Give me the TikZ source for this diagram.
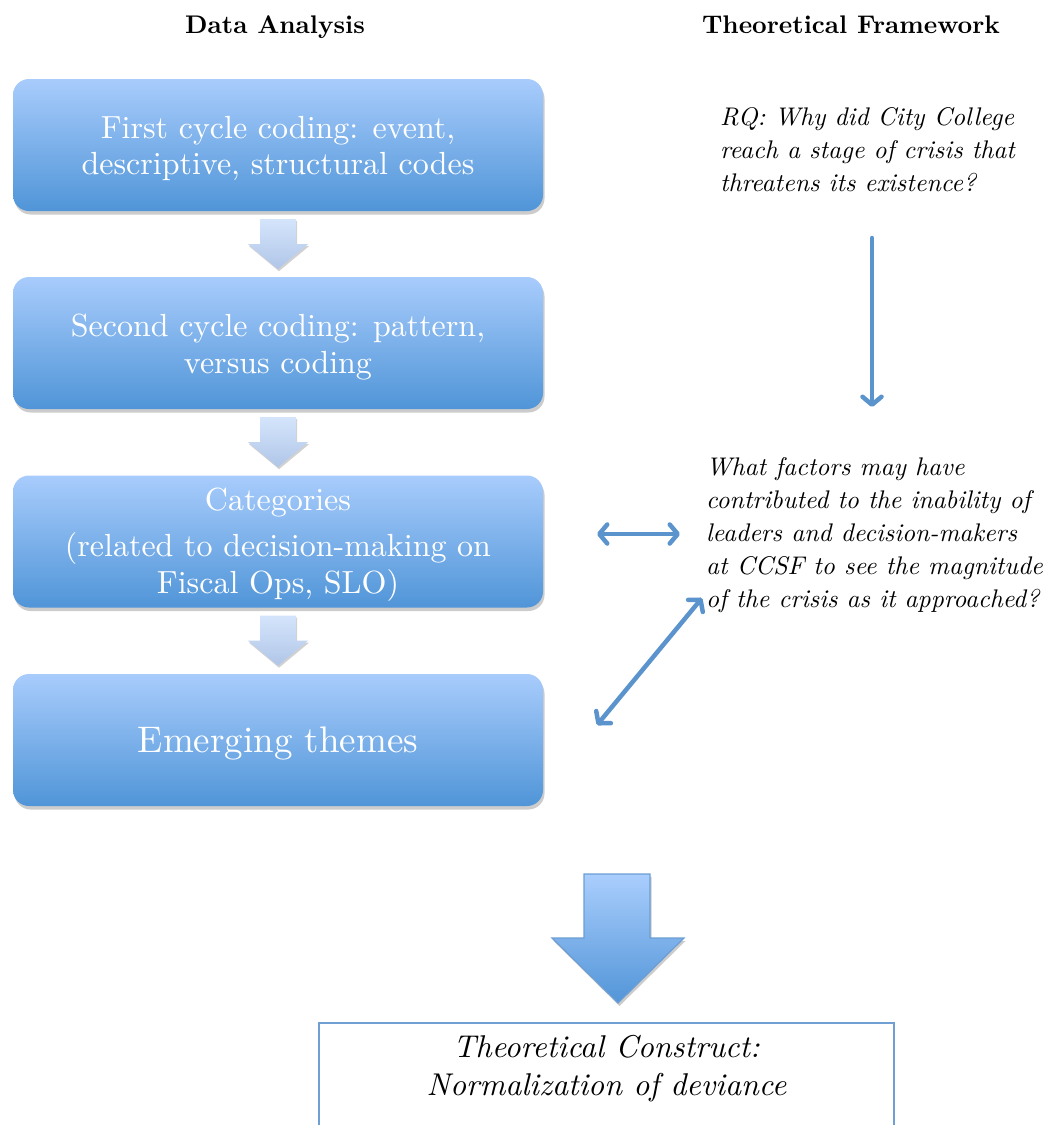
\documentclass[tikz,border=0pt]{standalone}
\usepackage{fontspec}
\newfontfamily\lmten{lmroman10-regular.otf}
\newfontfamily\lmtenit{lmroman10-italic.otf}
\newfontfamily\lmtenbf{lmroman10-bold.otf}
\usetikzlibrary{arrows.meta,shadows,calc}
\definecolor{boxtop}{RGB}{168,204,252}
\definecolor{boxbot}{RGB}{80,149,216}
\definecolor{satop}{RGB}{212,228,251}
\definecolor{sabot}{RGB}{176,198,232}
\definecolor{linecol}{RGB}{91,147,205}
\definecolor{bigtop}{RGB}{170,206,253}
\definecolor{bigbot}{RGB}{82,149,216}
\definecolor{bigedge}{RGB}{108,158,212}
\definecolor{framecol}{RGB}{112,160,211}
\begin{document}
\begin{tikzpicture}[x=1pt,y=-1pt,
  stepbox/.style={rounded corners=16pt, minimum width=530pt, minimum height=132pt,
    top color=boxtop, bottom color=boxbot, draw=none, inner sep=0pt,
    drop shadow={shadow xshift=1.5pt, shadow yshift=-3.5pt, opacity=0.2, fill=black}},
  boxtext/.style={text=white, align=center, inner sep=0pt,
    font=\lmten\fontsize{32}{36.5}\selectfont},
  headtxt/.style={font=\lmtenbf\fontsize{25.5}{30}\selectfont, anchor=base},
  qtext/.style={font=\lmtenit\fontsize{25.5}{33}\selectfont, align=left, anchor=north west, inner sep=0pt},
  thinarrow/.style={draw=linecol, line width=4.5pt, line cap=round,
    -{Straight Barb[length=8pt,width=19pt,round]}},
  dblarrow/.style={draw=linecol, line width=4.5pt, line cap=round,
    {Straight Barb[length=8pt,width=19pt,round]}-{Straight Barb[length=8pt,width=19pt,round]}},
  smallarr/.style={top color=satop, bottom color=sabot,
    drop shadow={shadow xshift=1pt, shadow yshift=-2pt, opacity=0.18, fill=black}},
  pics/downarr/.style={code={
    \path[smallarr] (-18,0) -- (18,0) -- (18,25) -- (30,25) -- (0,50) -- (-30,25) -- (-18,25) -- cycle;}},
]
\useasboundingbox (0,0) rectangle (1046,1125);

% headers
\node[headtxt] (hda) at (275,33) {Data Analysis};
\node[headtxt] (htf) at (851,33) {Theoretical Framework};

% left column boxes
\node[stepbox] (b1) at (278,145) {};
\node[stepbox] (b2) at (278,343) {};
\node[stepbox] (b3) at (278,541.5) {};
\node[stepbox] (b4) at (278,740) {};
\node[boxtext] (t1) at ($(b1.center)+(0,3.5)$) {First cycle coding: event,\\descriptive, structural codes};
\node[boxtext] (t2) at ($(b2.center)+(0,4)$) {Second cycle coding: pattern,\\versus coding};
\node[boxtext] (t3) at ($(b3.center)+(0,3)$) {Categories\\[10pt](related to decision-making on\\Fiscal Ops, SLO)};
\node[boxtext, font=\lmten\fontsize{37}{44}\selectfont] (t4) at ($(b4.center)+(0,3)$) {Emerging themes};

% small block arrows between boxes
\foreach \a in {b1,b2,b3} {
  \pic at ($(\a.south)+(0,8)$) {downarr};
}

% right column texts
\node[qtext] (rq) at (720,107) {RQ: Why did City College\\reach a stage of crisis that\\threatens its existence?};
\node[qtext] (fq) at (706,457.5) {What factors may have\\contributed to the inability of\\leaders and decision-makers\\at CCSF to see the magnitude\\of the crisis as it approached?};

% thin arrows
\coordinate (va) at (872,238);
\coordinate (vb) at (872,407);
\draw[thinarrow] (va) -- (vb);
\coordinate (h1) at (597,534);
\coordinate (h2) at (680,534);
\draw[dblarrow] (h1) -- (h2);
\coordinate (d1) at (597,725);
\coordinate (d2) at (702,598);
\draw[dblarrow] (d1) -- (d2);

% big block arrow
\path[top color=bigtop, bottom color=bigbot, draw=bigedge, line width=1.2pt,
  drop shadow={shadow xshift=1.5pt, shadow yshift=-3pt, opacity=0.2, fill=black}]
  (584,874) -- (650,874) -- (650,938) -- (684,938) -- (618,1003) -- (552,938) -- (584,938) -- cycle;

% bottom construct box
\node[font=\lmtenit\fontsize{31.5}{38}\selectfont, align=center, anchor=north,
  minimum width=575pt, inner xsep=0pt, inner ysep=12pt] (tc) at (606.5,1023)
  {Theoretical Construct:\\Normalization of deviance};
\draw[framecol, line width=1.8pt] ($(tc.south west)+(0,80)$) -- (tc.north west) -- (tc.north east) -- ($(tc.south east)+(0,80)$);
\end{tikzpicture}
\end{document}
